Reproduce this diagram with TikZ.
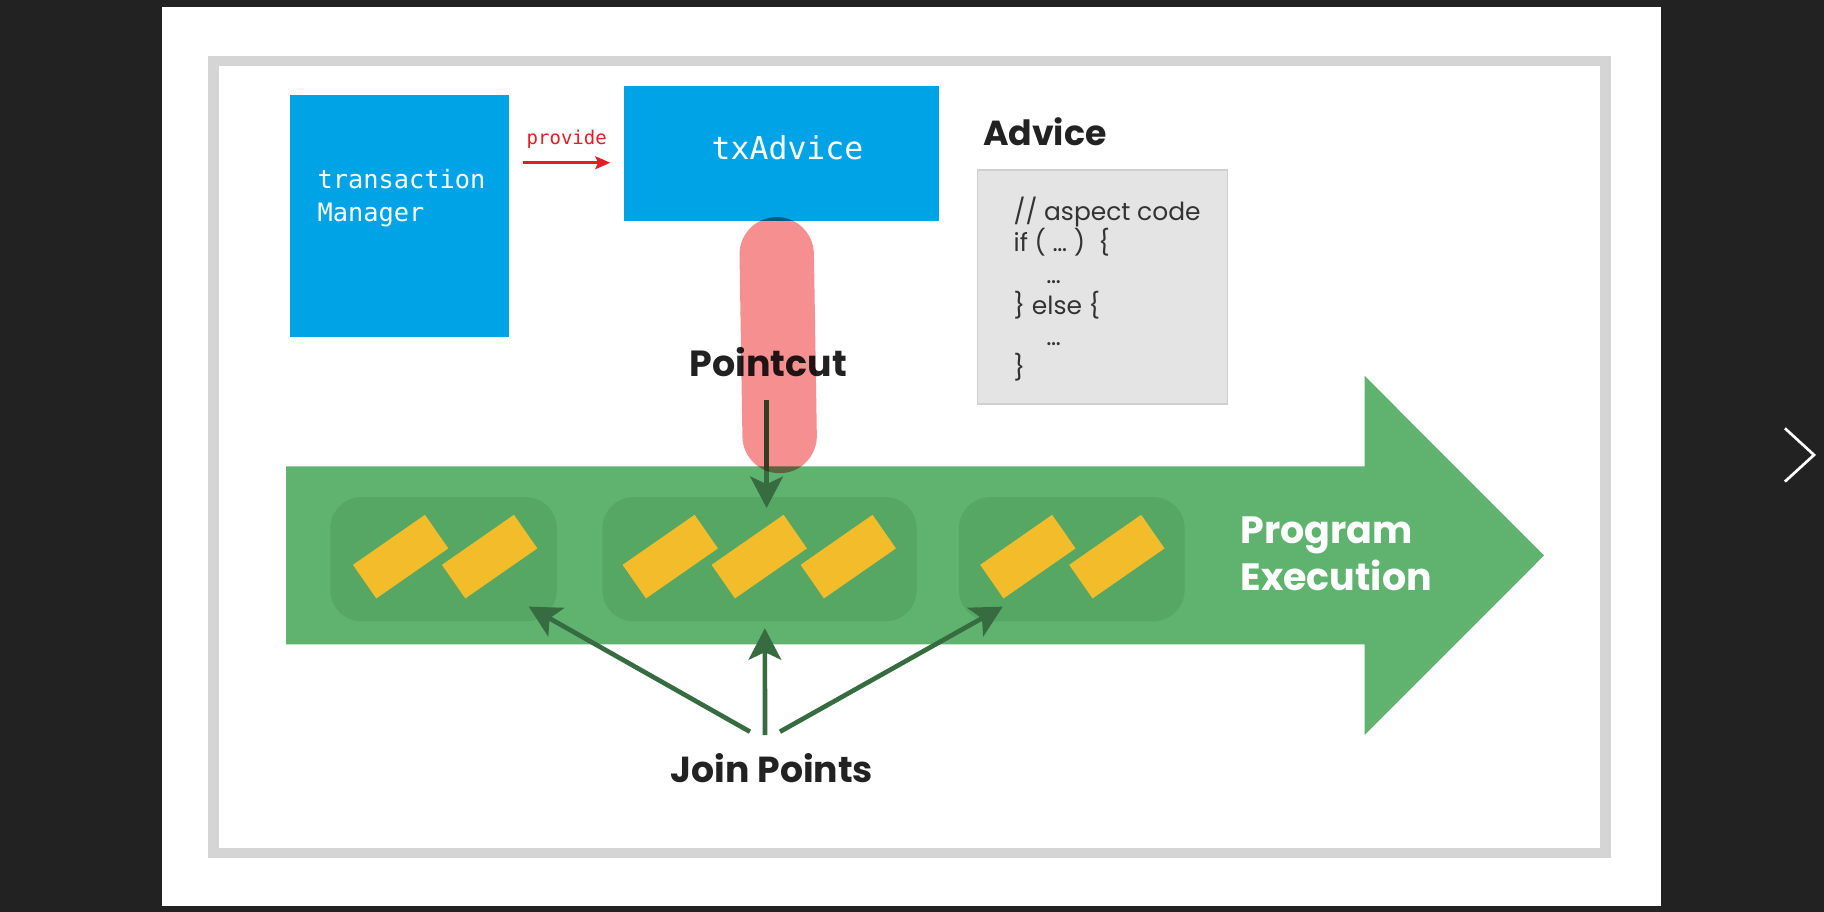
\documentclass[tikz,border=0pt]{standalone}
\usepackage{fontspec}
\setmainfont{Poppins}
\setmonofont{DejaVu Sans Mono}
\usetikzlibrary{arrows.meta,calc}
\definecolor{bgdark}{HTML}{222222}
\definecolor{framegray}{HTML}{D5D5D5}
\definecolor{txblue}{HTML}{00A3E6}
\definecolor{provred}{HTML}{E31E24}
\definecolor{pillpink}{HTML}{F58F90}
\definecolor{flowgreen}{HTML}{5FB36E}
\definecolor{grpgreen}{HTML}{55A763}
\definecolor{jyellow}{HTML}{F2BC2A}
\definecolor{arrowgreen}{HTML}{376B40}
\definecolor{labdark}{HTML}{222222}
\definecolor{codefill}{HTML}{E4E4E4}
\definecolor{codeline}{HTML}{CFCFCF}
\definecolor{codetext}{HTML}{333333}
\tikzset{
  bluebox/.style={fill=txblue, inner sep=0pt, anchor=north west},
  grp/.style={fill=grpgreen, rounded corners=0.54cm, inner sep=0pt, anchor=north west, minimum height=2.136cm},
  jpbar/.style={fill=jyellow, inner sep=0pt, minimum width=1.508cm, minimum height=0.704cm, rotate=34.8},
  lab/.style={font=\bfseries\fontsize{18}{22}\selectfont, text=labdark, inner sep=0pt},
  codeln/.style={font=\fontsize{12.2}{15}\selectfont, text=codetext, inner sep=0pt, anchor=base west},
  monotext/.style={font=\ttfamily, text=white, inner sep=0pt},
  jarrow/.style={draw=arrowgreen, line width=0.08cm, -{Stealth[length=0.54cm,width=0.56cm,inset=0.13cm]}},
}
\begin{document}
\begin{tikzpicture}[x=0.02cm,y=-0.02cm]
\useasboundingbox (0,0) rectangle (1568,784);
\fill[bgdark] (0,0) rectangle (1568,784);
% slide
\fill[white] (139,6) rectangle (1428,778.6);
\draw[framegray, line width=0.18cm, fill=white] (183.5,52.5) rectangle (1380,733.5);
% chevron
\draw[white, line width=0.046cm] (1534.4,368.2) -- (1559.4,391.1) -- (1534.4,414);

% blue boxes
\node[bluebox, minimum width=3.76cm, minimum height=4.16cm] (tm) at (249,81) {};
\node[bluebox, minimum width=5.42cm, minimum height=2.32cm] (txa) at (536,74) {};
\node[monotext, font=\ttfamily\fontsize{12.4}{16.3}\selectfont, anchor=base west, align=left] (tmtext) at (272.6,190.6) {transaction\\Manager};
\node[monotext, font=\ttfamily\fontsize{15.4}{18}\selectfont, anchor=base] (txatext) at (677,137) {txAdvice};
\node[font=\ttfamily\fontsize{9.3}{11}\selectfont, text=provred, inner sep=0pt, anchor=base] (prov) at (487.2,123.8) {provide};
\coordinate (provS) at (450,139.9);
\draw[provred, line width=0.046cm, -{Stealth[length=0.26cm,width=0.22cm,inset=0.05cm]}]
  (provS) -- (provS -| txa.west) [shorten >=0.226cm];

% advice
\node[lab, anchor=base west, font=\bfseries\fontsize{17}{21}\selectfont] (adv) at (844.7,125.2) {Advice};
\node[fill=codefill, draw=codeline, line width=0.03cm, inner sep=0pt, anchor=north west,
      minimum width=4.298cm, minimum height=4.022cm] (code) at (839.6,145.6) {};
\node[codeln] (c1) at (871.1,189.7) {// aspect code};
\node[codeln] (c2) at (871.1,216.5) {if ( … )\ \ \{};
\node[codeln] (c3) at (899.2,243.3) {…};
\node[codeln] (c4) at (871.1,270.1) {\} else \{};
\node[codeln] (c5) at (899.2,296.9) {…};
\node[codeln] (c6) at (871.1,323.7) {\}};

% program execution arrow
\fill[flowgreen] (246,401) -- (1173,401) -- (1173,323) -- (1327.3,477.5) -- (1173,632) -- (1173,554) -- (246,554) -- cycle;
\node[grp, minimum width=3.896cm] (g1) at (283.6,427) {};
\node[grp, minimum width=5.404cm] (g2) at (517.5,427) {};
\node[grp, minimum width=3.88cm] (g3) at (824,427) {};
\foreach \cx/\nm in {344.4/y1, 420.9/y2, 576.2/y3, 652.7/y4, 729.2/y5, 883.6/y6, 960.1/y7}
  \node[jpbar] (\nm) at (\cx,478.5) {};
\node[lab, text=white, anchor=base west, font=\bfseries\fontsize{18.6}{23}\selectfont] (pe1) at (1066,467.6) {Program};
\node[lab, text=white, anchor=base west, font=\bfseries\fontsize{18.6}{23}\selectfont] (pe2) at (1066,507.8) {Execution};

% pointcut
\node[lab, anchor=base, font=\bfseries\fontsize{17.8}{22}\selectfont] (pc) at (660.6,323.8) {Pointcut};
\coordinate (pcS) at (659,344);
\coordinate (pcT) at (659,436.7);
\draw[jarrow] (pcS) -- (pcT);

% join points
\node[lab, anchor=base, font=\bfseries\fontsize{17.7}{22}\selectfont] (jp) at (663.6,672.8) {Join Points};
\coordinate (js1) at (644.7,629);
\coordinate (js2) at (657.6,632);
\coordinate (js3) at (670.5,629);
\coordinate (jt1) at (454.6,521.5);
\coordinate (jt2) at (657.5,540.1);
\coordinate (jt3) at (862,521.5);
\draw[jarrow] (js1) -- (jt1);
\draw[jarrow] (js2) -- (jt2);
\draw[jarrow] (js3) -- (jt3);

% pill (multiply)
\begin{scope}[blend mode=multiply]
\draw[pillpink, line width=1.28cm, line cap=round] (667.7,218.6) -- (670.2,374.8);
\end{scope}
\end{tikzpicture}
\end{document}
